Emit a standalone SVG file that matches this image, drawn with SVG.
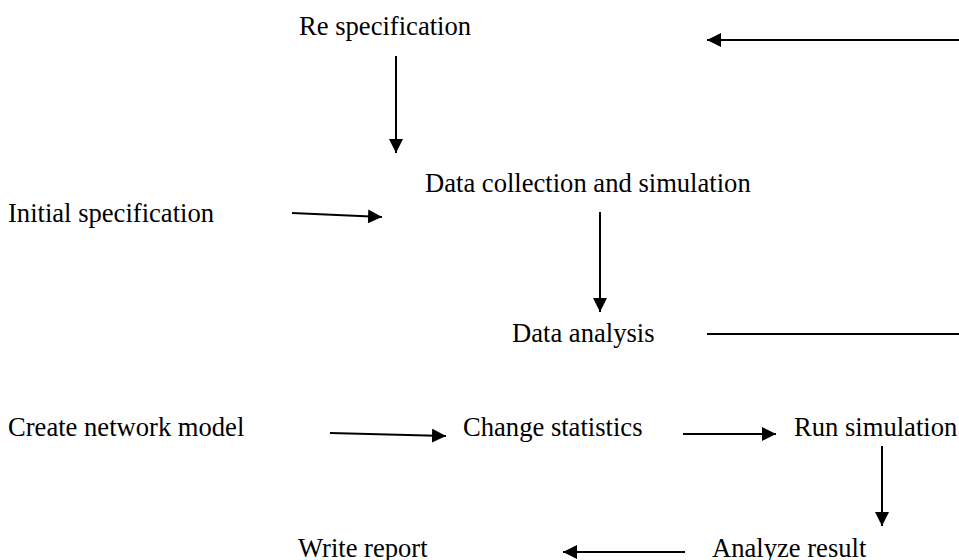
<svg xmlns="http://www.w3.org/2000/svg" width="959" height="560" viewBox="0 0 959 560">
<defs>
<marker id="ah" viewBox="0 0 10 10" refX="10" refY="5" markerWidth="14" markerHeight="14" markerUnits="userSpaceOnUse" orient="auto"><path d="M0,0 L10,5 L0,10 Z" fill="#000"/></marker>
<style>
text{font-family:"Liberation Serif","Times New Roman",serif;font-size:26.6px;fill:#000}
.c{stroke:#000;stroke-width:2;fill:none}
.a{marker-end:url(#ah)}
</style>
</defs>
<rect width="959" height="560" fill="#fff"/>
<g id="connectors">
<line class="c a" x1="959" y1="40" x2="707" y2="40"/>
<line class="c a" x1="396" y1="56" x2="396" y2="153"/>
<line class="c a" x1="292" y1="213" x2="382" y2="217"/>
<line class="c a" x1="600" y1="212" x2="600" y2="312"/>
<line class="c" x1="707" y1="334" x2="959" y2="334"/>
<line class="c a" x1="330" y1="433" x2="446" y2="436"/>
<line class="c a" x1="683" y1="434" x2="776" y2="434"/>
<line class="c a" x1="882" y1="446" x2="882" y2="526"/>
<line class="c a" x1="685" y1="552" x2="563" y2="552"/>
</g>
<g id="re-spec"><text x="299" y="35">Re specification</text></g>
<g id="data-collection"><text x="425" y="192">Data collection and simulation</text></g>
<g id="initial-spec"><text x="8" y="222">Initial specification</text></g>
<g id="data-analysis"><text x="512" y="342">Data analysis</text></g>
<g id="create-network"><text x="8" y="436">Create network model</text></g>
<g id="change-stats"><text x="463" y="436">Change statistics</text></g>
<g id="run-sim"><text x="794" y="436">Run simulation</text></g>
<g id="write-report"><text x="298" y="557">Write report</text></g>
<g id="analyze-result"><text x="712" y="557">Analyze result</text></g>
</svg>
